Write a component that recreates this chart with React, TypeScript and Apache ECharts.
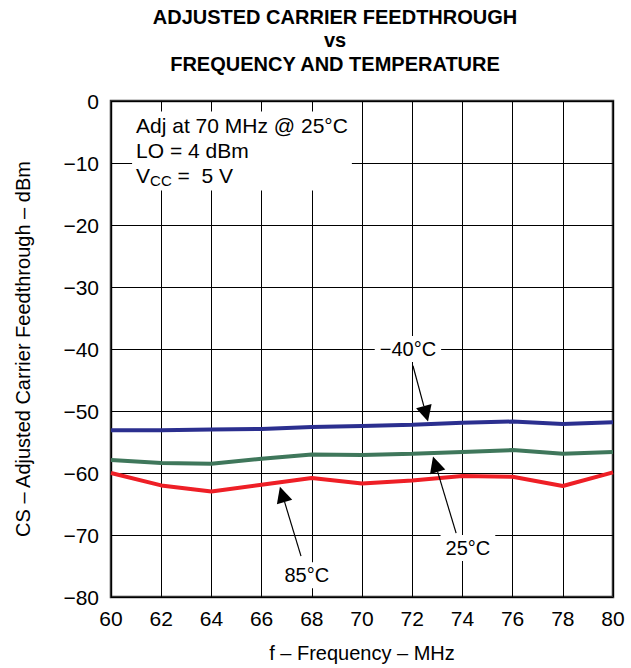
import React, { useEffect, useRef } from "react";
import * as echarts from "echarts";

const frequency = [60, 62, 64, 66, 68, 70, 72, 74, 76, 78, 80];
const minus40C = [-53.1, -53.1, -53.0, -52.9, -52.6, -52.4, -52.2, -51.9, -51.7, -52.1, -51.8];
const plus25C = [-57.9, -58.4, -58.5, -57.7, -57.0, -57.1, -56.9, -56.6, -56.3, -56.9, -56.6];
const plus85C = [-60.0, -62.0, -63.0, -61.9, -60.8, -61.7, -61.2, -60.5, -60.6, -62.1, -59.9];

const seriesNames = ["−40°C", "25°C", "85°C"];
const seriesColors = ["#2b2f8f", "#3f775b", "#ee1f26"];

// annotation arrows, in data units: label position, arrow start, arrow tip
const annotations = [
  { text: "−40°C", label: [71.83, -40.0], from: [72.03, -42.7], to: [72.63, -51.7] },
  { text: "25°C", label: [74.22, -72.1], from: [73.75, -69.7], to: [72.83, -57.35] },
  { text: "85°C", label: [67.8, -76.5], from: [67.57, -73.4], to: [66.73, -62.2] },
];

const FONT = "'Liberation Sans', Arial, Helvetica, sans-serif";

const fmt = (v: number) => (v < 0 ? "−" + Math.abs(v) : String(v));

export default function App() {
  const ref = useRef<HTMLDivElement>(null);
  useEffect(() => {
    if (!ref.current) return;
    const chart = echarts.init(ref.current, undefined, { renderer: "svg" });
    const toPairs = (ys: number[]) => frequency.map((f, i) => [f, ys[i]]);
    chart.setOption({
      animation: false,
      backgroundColor: "#fff",
      title: {
        text: "ADJUSTED CARRIER FEEDTHROUGH\nvs\nFREQUENCY AND TEMPERATURE",
        left: 335,
        top: 5,
        padding: 0,
        textAlign: "center",
        textStyle: {
          fontFamily: FONT,
          fontWeight: "bold",
          fontSize: 20,
          lineHeight: 23.5,
          color: "#000",
        },
      },
      grid: {
        left: 111,
        right: 18,
        top: 101,
        bottom: 69,
        show: true,
        borderColor: "#333",
        borderWidth: 2.5,
        backgroundColor: "transparent",
      },
      xAxis: {
        type: "value",
        min: 60,
        max: 80,
        interval: 2,
        name: "f – Frequency – MHz",
        nameLocation: "middle",
        nameGap: 46,
        nameTextStyle: { fontFamily: FONT, fontSize: 20, color: "#000" },
        axisLine: { show: false },
        axisTick: { show: false },
        axisLabel: { fontFamily: FONT, fontSize: 21, color: "#000", margin: 11 },
        splitLine: { show: true, lineStyle: { color: "#000", width: 1 } },
      },
      yAxis: {
        type: "value",
        min: -80,
        max: 0,
        interval: 10,
        name: "CS – Adjusted Carrier Feedthrough – dBm",
        nameLocation: "middle",
        nameGap: 78,
        nameTextStyle: { fontFamily: FONT, fontSize: 20, color: "#000" },
        axisLine: { show: false },
        axisTick: { show: false },
        axisLabel: { fontFamily: FONT, fontSize: 21, color: "#000", margin: 12, formatter: fmt },
        splitLine: { show: true, lineStyle: { color: "#000", width: 1 } },
      },
      series: [minus40C, plus25C, plus85C].map((d, i) => ({
        type: "line",
        name: seriesNames[i],
        data: toPairs(d),
        showSymbol: false,
        symbol: "none",
        lineStyle: { color: seriesColors[i], width: 4 },
        z: 3,
      })),
    });

    const graphics: any[] = [];
    // info box
    const p0 = chart.convertToPixel({ gridIndex: 0 }, [60.84, -1.69]) as number[];
    graphics.push({
      type: "text",
      x: p0[0],
      y: p0[1],
      z: 10,
      style: {
        text: "Adj at 70 MHz @ 25°C\nLO = 4 dBm\n{v|V}{sub|CC}{v| =  5 V}",
        fontFamily: FONT,
        fontSize: 21,
        lineHeight: 25,
        fill: "#000",
        backgroundColor: "#fff",
        padding: [2, 4, 2, 4],
        rich: {
          v: { fontFamily: FONT, fontSize: 21, lineHeight: 25, fill: "#000" },
          sub: {
            fontFamily: FONT,
            fontSize: 15,
            lineHeight: 25,
            fill: "#000",
            verticalAlign: "bottom",
            padding: [11, 0, 0, 0],
          },
        },
      },
    });
    annotations.forEach((a) => {
      const lp = chart.convertToPixel({ gridIndex: 0 }, a.label) as number[];
      const fp = chart.convertToPixel({ gridIndex: 0 }, a.from) as number[];
      const tp = chart.convertToPixel({ gridIndex: 0 }, a.to) as number[];
      const dx = tp[0] - fp[0];
      const dy = tp[1] - fp[1];
      const len = Math.sqrt(dx * dx + dy * dy);
      const ux = dx / len;
      const uy = dy / len;
      const headL = 16;
      const headW = 8;
      const bx = tp[0] - ux * headL;
      const by = tp[1] - uy * headL;
      graphics.push({
        type: "line",
        z: 10,
        shape: { x1: fp[0], y1: fp[1], x2: bx, y2: by },
        style: { stroke: "#000", lineWidth: 1.2 },
      });
      graphics.push({
        type: "polygon",
        z: 10,
        shape: {
          points: [
            [tp[0], tp[1]],
            [bx - uy * headW, by + ux * headW],
            [bx + uy * headW, by - ux * headW],
          ],
        },
        style: { fill: "#000" },
      });
      graphics.push({
        type: "text",
        x: lp[0],
        y: lp[1],
        z: 10,
        style: {
          text: a.text,
          fontFamily: FONT,
          fontSize: 20,
          fill: "#000",
          align: "center",
          verticalAlign: "middle",
          backgroundColor: "#fff",
          padding: [3, 5, 3, 5],
        },
      });
    });
    chart.setOption({ graphic: graphics });
    return () => chart.dispose();
  }, []);
  return (
    <div
      ref={ref}
      style={{ position: "absolute", left: 0, top: 0, width: 631, height: 668 }}
    />
  );
}
